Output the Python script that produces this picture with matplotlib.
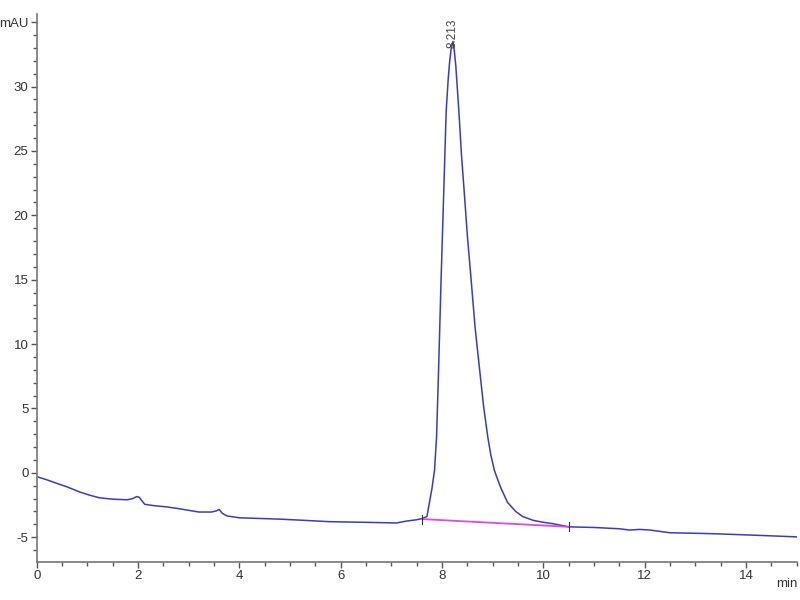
import matplotlib.pyplot as plt
import numpy as np

plt.rcParams['font.family'] = ['Liberation Sans', 'DejaVu Sans']

# trace (time in min, signal in mAU)
time_min = [
    0.0, 0.2, 0.45, 0.6, 0.85, 1.05, 1.24, 1.5, 1.78, 1.9, 1.97, 2.02, 2.08, 2.13,
    2.3, 2.56, 2.82, 3.2, 3.45, 3.55, 3.6, 3.66, 3.75, 4.0, 4.4, 4.79, 5.3, 5.78,
    6.5, 7.1, 7.3, 7.5, 7.61, 7.7, 7.75, 7.8, 7.85, 7.89, 7.93, 7.98, 8.03, 8.08,
    8.12, 8.15, 8.18, 8.213, 8.24, 8.27, 8.33, 8.38, 8.44, 8.5, 8.57, 8.65, 8.74,
    8.82, 8.9, 8.96, 9.03, 9.15, 9.29, 9.45, 9.59, 9.8, 10.0, 10.18, 10.5, 11.0,
    11.5, 11.7, 11.9, 12.1, 12.5, 13.0, 13.4, 14.3, 15.0,
]
signal_mau = [
    -0.3, -0.55, -0.9, -1.1, -1.5, -1.75, -1.95, -2.05, -2.1, -2.0, -1.85, -1.9,
    -2.2, -2.45, -2.55, -2.65, -2.8, -3.05, -3.05, -2.95, -2.85, -3.15, -3.35,
    -3.5, -3.55, -3.6, -3.7, -3.8, -3.85, -3.9, -3.75, -3.65, -3.55, -3.4, -2.3,
    -1.2, 0.2, 2.8, 8.0, 15.1, 21.6, 28.1, 30.6, 32.0, 33.0, 33.5, 32.8, 31.6, 28.1,
    24.8, 21.6, 18.3, 15.1, 11.3, 8.0, 5.1, 2.8, 1.4, 0.2, -1.1, -2.3, -3.0, -3.4,
    -3.7, -3.85, -3.95, -4.2, -4.25, -4.35, -4.45, -4.4, -4.45, -4.66, -4.7, -4.74,
    -4.87, -4.98,
]

# integration baseline of the peak
baseline_t = [7.61, 10.5]
baseline_y = [-3.6, -4.2]

peak_rt = 8.213
peak_height = 33.5

x_ticks = [0, 2, 4, 6, 8, 10, 12, 14]
y_ticks = [-5, 0, 5, 10, 15, 20, 25, 30, 35]
y_tick_labels = ['-5', '0', '5', '10', '15', '20', '25', '30', 'mAU']

fig = plt.figure(figsize=(8, 6), dpi=100)
ax = fig.add_axes([0.046, 0.064, 0.950, 0.912])

ax.plot(time_min, signal_mau, color='#3a3ac8', linewidth=1.1)
ax.plot(baseline_t, baseline_y, color='#e048e0', linewidth=1.3)
for t, y in zip(baseline_t, baseline_y):
    ax.plot([t, t], [y - 0.35, y + 0.35], color='#333333', linewidth=0.8)

ax.text(peak_rt, peak_height - 0.5, f'{peak_rt:.3f}', rotation=90,
        ha='center', va='bottom', fontsize=8.5, color='#444444')

ax.set_xlim(0, 15)
ax.set_ylim(-6.9, 35.6)

ax.set_xticks(x_ticks)
ax.set_xticks(np.arange(0, 15.01, 0.5), minor=True)
ax.set_yticks(y_ticks)
ax.set_yticklabels(y_tick_labels)
ax.set_yticks(np.arange(-6, 35.01, 1), minor=True)

for side in ['top', 'right']:
    ax.spines[side].set_visible(False)
for side in ['left', 'bottom']:
    ax.spines[side].set_color('#777777')
    ax.spines[side].set_linewidth(1.2)

ax.tick_params(which='major', length=4.5, width=1, color='#555555',
               labelsize=9.5, labelcolor='#333333', pad=1.5)
ax.tick_params(which='minor', length=3, width=1, color='#555555')

fig.text(0.997, 0.022, 'min', fontsize=9.5, color='#333333', ha='right')

fig.savefig('out.png', dpi=100)
